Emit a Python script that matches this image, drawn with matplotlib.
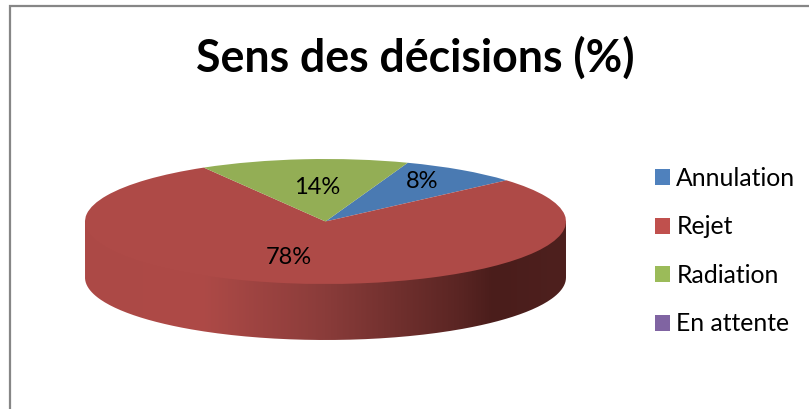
#!/usr/bin/env python3
"""Sens des decisions - fake 3D pie, squashed by hand."""
import numpy as np
import matplotlib
matplotlib.use('Agg')
import matplotlib.pyplot as plt
from matplotlib.colors import LinearSegmentedColormap
from matplotlib.patches import Patch, PathPatch
from matplotlib.path import Path

plt.rcParams['font.family'] = ['Lato', 'DejaVu Sans']

title = 'Sens des décisions (%)'
categories = ['Annulation', 'Rejet', 'Radiation', 'En attente']
values = [8, 78, 14, 0]
pct_labels = ['8%', '78%', '14%', '']

top_colors = ['#4A7AB2', '#AE4A47', '#93AE55', '#8064A2']
legend_colors = ['#4F81BD', '#C0504D', '#9BBB59', '#8064A2']

W, H = 809, 409
# ellipse of the top face, in pixels
cx, cy, rx, ry = 325.5, 221.5, 240.5, 62.5
depth = 56

fig = plt.figure(figsize=(W/100, H/100), dpi=100)

# page axes in pixel coordinates, y down
bg = fig.add_axes([0, 0, 1, 1])
bg.set_xlim(0, W)
bg.set_ylim(H, 0)
bg.axis('off')

# chart frame, only top and left show in the crop
bg.plot([10, 10, W], [H, 6, 6], color='#868686', lw=1.6, solid_joinstyle='miter')

# side wall of the disc, horizontal gradient clipped to the lower half ellipse
# its top edge runs straight across, under the pie, so no seam shows at the rim
t = np.linspace(np.pi, 0, 200)
xs = cx + rx*np.cos(t)
lower = cy + depth + ry*np.sin(t)
verts = np.r_[[[xs[0], cy]], np.c_[xs, lower], [[xs[-1], cy]], [[xs[0], cy]]]
wall = PathPatch(Path(verts), fc='none', ec='none')
bg.add_patch(wall)
cmap = LinearSegmentedColormap.from_list('wall', [
    (0.00, '#AC4946'), (0.24, '#AE4A47'), (0.50, '#8A3C3A'),
    (0.78, '#5A2523'), (0.85, '#4A1D1B'), (1.00, '#4E201E')])
im = bg.imshow(np.linspace(0, 1, 256)[None, :], cmap=cmap, aspect='auto',
               extent=[cx-rx, cx+rx, cy+ry+depth, cy-ry], zorder=1)
im.set_clip_path(wall)
bg.set_xlim(0, W)
bg.set_ylim(H, 0)

# top face: a normal pie in an axes stretched to the ellipse box
pie_ax = fig.add_axes([(cx-rx)/W, 1-(cy+ry)/H, 2*rx/W, 2*ry/H], zorder=2)
pie_ax.pie(values, colors=top_colors, startangle=70, counterclock=False,
           radius=1, wedgeprops={'linewidth': 0})
pie_ax.set_aspect('auto')
pie_ax.set_xlim(-1, 1)
pie_ax.set_ylim(-1, 1)

# text goes on an overlay so it sits above the pie
top = fig.add_axes([0, 0, 1, 1], zorder=3)
top.set_xlim(0, W)
top.set_ylim(H, 0)
top.axis('off')
top.patch.set_alpha(0)

top.text(415.5, 58, title, fontsize=32.1, fontweight='bold', color='black',
         ha='center', va='center')

label_pos = [(422, 181), (289, 258), (317, 188)]
for lab, (x, y) in zip(pct_labels, label_pos):
    top.text(x, y, lab, fontsize=17, color='black', ha='center', va='center')

handles = [Patch(fc=c, ec='none') for c in legend_colors]
top.legend(handles, categories, loc='upper left', bbox_to_anchor=(655/W, 1-167/H),
           frameon=False, fontsize=17.8, handlelength=0.61, handleheight=0.61,
           handletextpad=0.25, labelspacing=1.03, borderpad=0, borderaxespad=0)

fig.savefig('out.png', dpi=100, facecolor='white')
plt.close()
